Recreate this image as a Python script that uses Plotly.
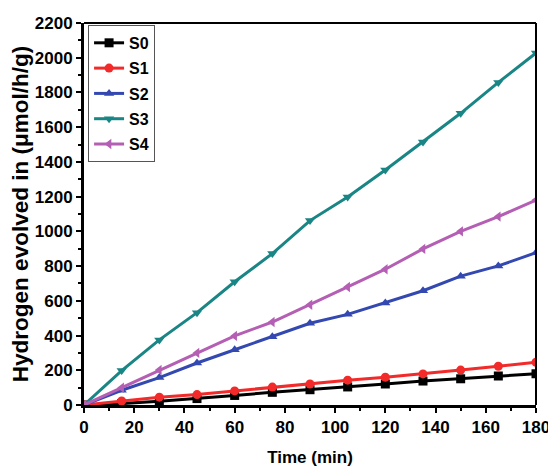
import plotly.graph_objects as go

time_min = [0, 15, 30, 45, 60, 75, 90, 105, 120, 135, 150, 165, 180]
s0 = [0, 8, 22, 37, 55, 73, 88, 104, 121, 138, 151, 167, 180]
s1 = [0, 23, 45, 60, 81, 103, 121, 143, 160, 179, 201, 223, 246]
s2 = [0, 85, 158, 242, 318, 393, 471, 522, 588, 658, 742, 801, 877]
s3 = [0, 198, 375, 532, 710, 872, 1062, 1198, 1353, 1514, 1680, 1858, 2027]
s4 = [0, 99, 202, 300, 398, 478, 577, 680, 782, 899, 1000, 1085, 1180]

names = ["S0", "S1", "S2", "S3", "S4"]
series = [s0, s1, s2, s3, s4]
colors = ["#000000", "#f22a2a", "#3348b0", "#1a8585", "#b45fb4"]
symbols = ["square", "circle", "triangle-up", "triangle-down", "triangle-left"]

x_ticks = list(range(0, 181, 20))
y_ticks = list(range(0, 2201, 200))

fig = go.Figure()
for n, ys, c, s in zip(names, series, colors, symbols):
    fig.add_trace(go.Scatter(
        x=time_min, y=ys, name=n, mode="lines+markers", legendgroup=n,
        line=dict(color=c, width=3),
        marker=dict(symbol=s, size=9, color=c),
    ))

font_family = "Liberation Sans, Arial, sans-serif"
fig.update_layout(
    width=548, height=467,
    margin=dict(l=84, r=12, t=23, b=62),
    paper_bgcolor="white", plot_bgcolor="white",
    font=dict(family=font_family, size=14, color="black"),
    showlegend=True,
    legend=dict(
        x=0.009, y=0.995, xanchor="left", yanchor="top",
        bordercolor="#555555", borderwidth=1, bgcolor="white",
        font=dict(size=16, family=font_family, color="black", weight="bold"),
        tracegroupgap=1.5, itemwidth=30,
    ),
    xaxis=dict(
        range=[0, 180], tickmode="array", tickvals=x_ticks,
        ticktext=[str(v) for v in x_ticks],
        ticks="outside", ticklen=5, tickwidth=2, tickcolor="black",
        minor=dict(ticks="outside", ticklen=3, tickwidth=1.5, dtick=10, tickcolor="black"),
        showline=True, linewidth=3, linecolor="black", mirror=False,
        showgrid=False, zeroline=False, automargin=False,
        ticklabeloverflow="allow",
        tickfont=dict(size=17, family=font_family, weight="bold"),
        title=dict(text="Time (min)", font=dict(size=17, family=font_family, weight="bold"), standoff=16),
    ),
    yaxis=dict(
        range=[0, 2200], tickmode="array", tickvals=y_ticks,
        ticktext=[str(v) for v in y_ticks],
        ticks="outside", ticklen=5, tickwidth=2, tickcolor="black",
        minor=dict(ticks="outside", ticklen=3, tickwidth=1.5, dtick=100, tickcolor="black"),
        showline=True, linewidth=3, linecolor="black", mirror=False,
        showgrid=False, zeroline=False, automargin=False,
        ticklabeloverflow="allow",
        tickfont=dict(size=17, family=font_family, weight="bold"),
        title=dict(text="Hydrogen evolved in (μmol/h/g)", font=dict(size=22.5, family=font_family, weight="bold"), standoff=0),
    ),
    shapes=[
        dict(type="line", xref="x domain", yref="y domain", x0=0, x1=1, y0=1, y1=1,
             line=dict(color="black", width=2)),
        dict(type="line", xref="x domain", yref="y domain", x0=1, x1=1, y0=0, y1=1,
             line=dict(color="black", width=2)),
    ],
)

fig.write_html(
    "out.html",
    config={"displayModeBar": False},
    post_script="document.body.style.margin='0';document.body.style.padding='0';",
)
